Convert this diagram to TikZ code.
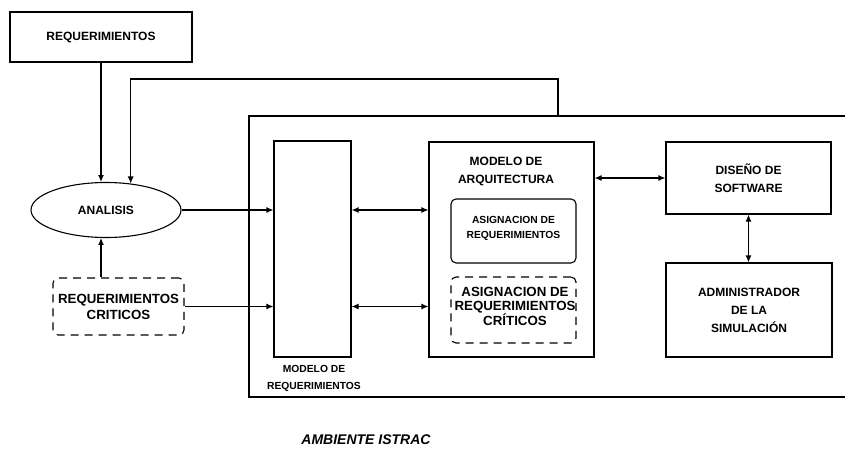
\documentclass[tikz,border=0pt]{standalone}
\usepackage{fontspec}
\setmainfont{Liberation Sans}
\usetikzlibrary{positioning,arrows.meta,calc,shapes.geometric}

\begin{document}
\begin{tikzpicture}[x=1pt, y=-1pt,
    box/.style={draw, line width=1.1pt, inner sep=0pt, align=center, font=\bfseries\fontsize{12}{18}\selectfont},
    critbox/.style={box, rounded corners=5pt, dash pattern=on 8pt off 6pt},
    smalltxt/.style={font=\bfseries\fontsize{10.3}{15}\selectfont, align=center, inner sep=0pt},
    bigtxt/.style={font=\bfseries\fontsize{13.3}{14.5}\selectfont, align=center, inner sep=0pt},
    arr/.style={-{Latex[length=7pt,width=6pt]}, line width=1.1pt},
    darr/.style={{Latex[length=7pt,width=6pt]}-{Latex[length=7pt,width=6pt]}, line width=1.1pt}
  ]
  \clip (0,0) rectangle (845,449);
  \useasboundingbox (0,0) rectangle (845,449);

  % entrada y analisis
  \node[box, minimum width=182pt, minimum height=50pt] (req) at (101,37) {REQUERIMIENTOS};
  \node[box, ellipse, minimum width=150pt, minimum height=55pt] (analisis) at (106,210) {ANALISIS};
  \node[critbox, minimum width=131pt, minimum height=57pt, font=\bfseries\fontsize{13.3}{16}\selectfont] (crit) at (118.5,306.5) {REQUERIMIENTOS\\CRITICOS};

  % ambiente
  \node[box, minimum width=620pt, minimum height=281pt] (env) at (559,256.5) {};
  \coordinate (fb) at (558,116);
  \coordinate (fbtop) at (558,79);

  \node[box, minimum width=77pt, minimum height=216pt] (modreq) at (312.5,249) {};
  \node[smalltxt, font=\bfseries\fontsize{10.3}{17}\selectfont] (modreqlbl) at (314,378.5) {MODELO DE\\REQUERIMIENTOS};

  \node[box, minimum width=165pt, minimum height=215pt] (arq) at (511.5,249.5) {};
  \node[align=center, inner sep=0pt, font=\bfseries\fontsize{12}{18}\selectfont] (arqlbl) at (506,171) {MODELO DE\\ARQUITECTURA};
  \node[box, rounded corners=5pt, minimum width=125pt, minimum height=64pt] (asig) at (513.5,231) {};
  \node[smalltxt] (asiglbl) at (513.5,228.5) {ASIGNACION DE\\REQUERIMIENTOS};
  \node[critbox, minimum width=125pt, minimum height=66pt] (asigc) at (513.5,310) {};
  \node[bigtxt] (asigclbl) at (515,306) {ASIGNACION DE\\REQUERIMIENTOS\\CRÍTICOS};

  \node[box, minimum width=165pt, minimum height=72pt] (diseno) at (748.5,178) {DISEÑO DE\\SOFTWARE};
  \node[box, minimum width=166pt, minimum height=94pt] (admin) at (749,310) {ADMINISTRADOR\\DE LA\\SIMULACIÓN};

  \node[font=\bfseries\itshape\fontsize{14}{16}\selectfont, inner sep=0pt] (amb) at (366,440) {AMBIENTE ISTRAC};

  % conexiones
  \draw[arr] (req.south) -- (req.south |- analisis.100);
  \draw[arr] (fb) -- (fbtop) -| (analisis.47);
  \draw[arr] (crit.north -| req.south) -- (req.south |- analisis.260);
  \draw[arr] (analisis.east) -- (analisis.east -| modreq.west);
  \draw[arr] (crit.east) -- (crit.east -| modreq.west);
  \draw[darr] (analisis.east -| modreq.east) -- (analisis.east -| arq.west);
  \draw[darr] (crit.east -| modreq.east) -- (crit.east -| arq.west);
  \draw[darr] (diseno.west -| arq.east) -- (diseno.west);
  \draw[darr] (diseno.south) -- (diseno.south |- admin.north);
\end{tikzpicture}
\end{document}
